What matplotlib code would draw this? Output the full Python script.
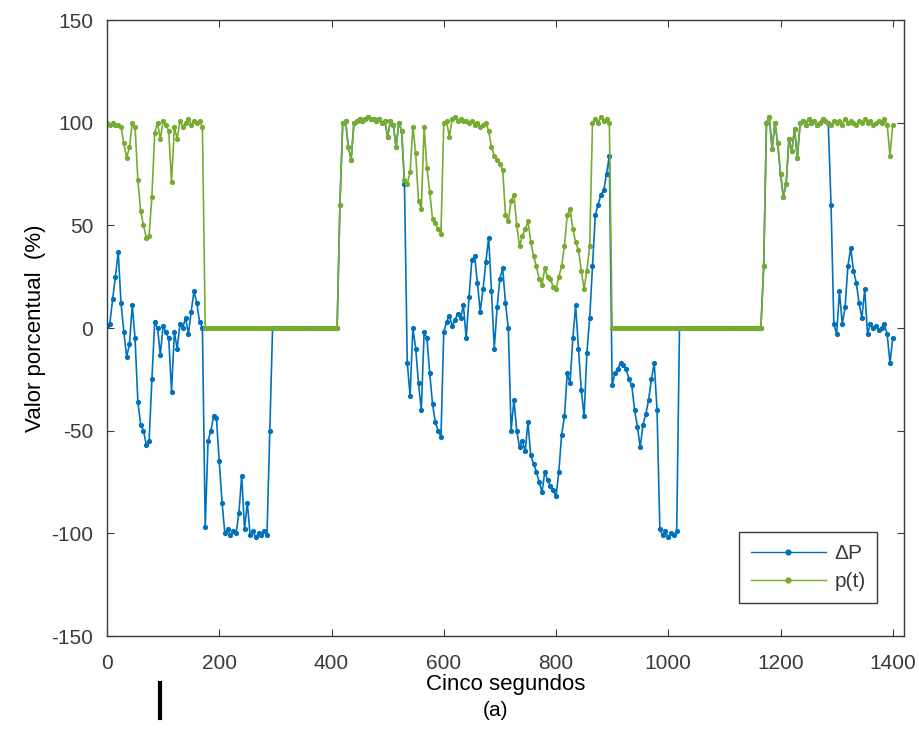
import numpy as np
import matplotlib
matplotlib.use('Agg')
import matplotlib.pyplot as plt
from matplotlib.lines import Line2D

plt.rcParams['font.family'] = ['Liberation Sans', 'DejaVu Sans']
plt.rcParams['axes.unicode_minus'] = False

# one sample every 5 time steps, 0 .. 1400
STEP = 5

# p(t), one row per 100 steps
p_t = [
    100, 99, 100, 99, 99, 98, 90, 83, 88, 100, 98, 72, 57, 50, 44, 45, 64, 95, 100, 92,
    101, 99, 96, 71, 98, 92, 101, 98, 100, 102, 99, 101, 100, 101, 98, 0, 0, 0, 0, 0,
    0, 0, 0, 0, 0, 0, 0, 0, 0, 0, 0, 0, 0, 0, 0, 0, 0, 0, 0, 0,
    0, 0, 0, 0, 0, 0, 0, 0, 0, 0, 0, 0, 0, 0, 0, 0, 0, 0, 0, 0,
    0, 0, 0, 60, 100, 101, 88, 82, 100, 101, 102, 101, 102, 103, 102, 102, 101, 102, 100, 101,
    93, 101, 99, 88, 100, 96, 72, 70, 76, 98, 85, 62, 58, 98, 78, 66, 53, 51, 48, 46,
    100, 101, 93, 102, 103, 101, 102, 101, 101, 100, 101, 99, 100, 98, 99, 100, 96, 88, 84, 82,
    80, 77, 55, 52, 62, 65, 50, 40, 45, 48, 52, 42, 35, 30, 24, 21, 29, 25, 24, 20,
    19, 25, 30, 40, 55, 58, 48, 42, 38, 28, 19, 28, 40, 100, 102, 100, 103, 101, 102, 100,
    0, 0, 0, 0, 0, 0, 0, 0, 0, 0, 0, 0, 0, 0, 0, 0, 0, 0, 0, 0,
    0, 0, 0, 0, 0, 0, 0, 0, 0, 0, 0, 0, 0, 0, 0, 0, 0, 0, 0, 0,
    0, 0, 0, 0, 0, 0, 0, 0, 0, 0, 0, 0, 0, 0, 30, 100, 103, 87, 100, 90,
    75, 64, 70, 92, 86, 97, 83, 100, 101, 99, 102, 100, 101, 99, 100, 102, 101, 100, 99, 101,
    100, 101, 99, 102, 100, 101, 100, 99, 101, 100, 102, 100, 101, 99, 100, 101, 100, 102, 99, 84,
    99,
]

# delta P, same sampling
delta_p = [
    1, 2, 14, 25, 37, 12, -2, -14, -8, 11, -5, -36, -47, -50, -57, -55, -25, 3, 0, -13,
    1, -2, -5, -31, -2, -10, 2, 0, 5, -3, 8, 18, 12, 3, 0, -97, -55, -50, -43, -44,
    -65, -85, -100, -98, -101, -99, -100, -90, -72, -98, -85, -101, -99, -102, -100, -101, -99, -101, -50, 0,
    0, 0, 0, 0, 0, 0, 0, 0, 0, 0, 0, 0, 0, 0, 0, 0, 0, 0, 0, 0,
    0, 0, 0, 60, 100, 101, 88, 82, 100, 101, 102, 101, 102, 103, 102, 102, 101, 102, 100, 101,
    93, 101, 99, 88, 100, 96, 70, -17, -33, 0, -10, -27, -40, -2, -5, -22, -37, -46, -50, -53,
    -2, 3, 6, 1, 4, 7, 5, 11, -5, 15, 33, 35, 22, 8, 19, 32, 44, 18, -10, 10,
    24, 29, 12, 0, -50, -35, -50, -58, -55, -60, -46, -62, -66, -70, -75, -80, -70, -74, -77, -79,
    -82, -70, -52, -43, -22, -27, -5, 11, -10, -30, -43, -12, 5, 30, 55, 60, 65, 67, 75, 84,
    -28, -22, -20, -17, -18, -20, -25, -28, -40, -48, -58, -47, -42, -35, -25, -17, -40, -98, -101, -99,
    -102, -100, -101, -99, 0, 0, 0, 0, 0, 0, 0, 0, 0, 0, 0, 0, 0, 0, 0, 0,
    0, 0, 0, 0, 0, 0, 0, 0, 0, 0, 0, 0, 0, 0, 30, 100, 103, 87, 100, 90,
    75, 64, 70, 92, 86, 97, 83, 100, 101, 99, 102, 100, 101, 99, 100, 102, 101, 100, 60, 2,
    -3, 18, 2, 10, 30, 39, 28, 22, 12, 5, 19, -3, 2, 0, 1, -1, 0, 2, -3, -17,
    -5,
]

t = np.arange(len(p_t)) * STEP

BLUE = (0.0, 0.447, 0.741)
GREEN = (0.466, 0.674, 0.188)
AXIS_GRAY = '#3a3a3a'

fig = plt.figure(figsize=(9.19, 7.47), dpi=100)
ax = fig.add_axes([107 / 919, 1 - 636 / 747, 797 / 919, 616 / 747])

ax.plot(t, delta_p, color=BLUE, lw=1.2, marker='.', ms=5.5, label='ΔP')
ax.plot(t, p_t, color=GREEN, lw=1.2, marker='.', ms=5.5, label='p(t)')

ax.set_xlim(0, 1420)
ax.set_ylim(-150, 150)
ax.set_xticks(range(0, 1401, 200))
ax.set_yticks(range(-150, 151, 50))

# matlab-like box: ticks inside on every side
ax.tick_params(direction='in', top=True, right=True, length=5, width=0.8,
               labelsize=15, colors=AXIS_GRAY, pad=10)
ax.tick_params(axis='x', pad=13)
for s in ax.spines.values():
    s.set_color(AXIS_GRAY)
    s.set_linewidth(1.0)

ax.set_xlabel('Cinco segundos', fontsize=16, color='black', labelpad=1)
ax.set_ylabel('Valor porcentual  (%)', fontsize=16, color='black', labelpad=4)

handles = [Line2D([0, 0.5, 1], [0, 0, 0], color=BLUE, lw=1.0, marker='.', ms=7, markevery=[1]),
           Line2D([0, 0.5, 1], [0, 0, 0], color=GREEN, lw=1.0, marker='.', ms=7, markevery=[1])]
leg = ax.legend(handles, ['ΔP', 'p(t)'], loc='lower right',
                bbox_to_anchor=(0.966, 0.054), borderaxespad=0,
                fontsize=15, fancybox=False, framealpha=1,
                edgecolor=AXIS_GRAY, handlelength=3.6, handletextpad=0.4,
                labelspacing=0.45, borderpad=0.55)
leg.get_frame().set_linewidth(1.0)
for txt in leg.get_texts():
    txt.set_color(AXIS_GRAY)

fig.text(495 / 919, 1 - 710 / 747, '(a)', ha='center', va='center',
         fontsize=15, color='black')
# short black bar under the axis
fig.add_artist(Line2D([160 / 919, 160 / 919], [1 - 683 / 747, 1 - 718 / 747],
                      color='black', lw=3, transform=fig.transFigure))

fig.savefig('out.png', dpi=100)
